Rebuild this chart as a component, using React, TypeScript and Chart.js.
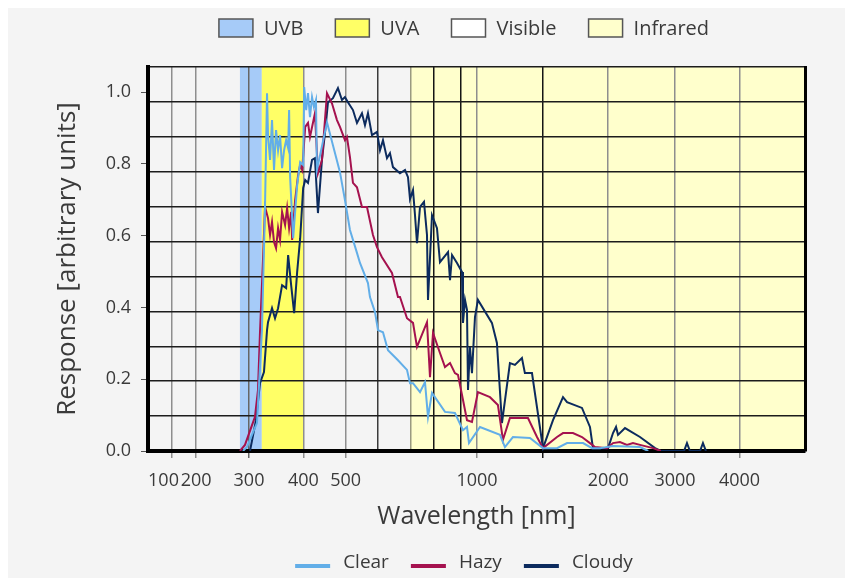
import React, { useEffect, useRef } from "react";
import { Chart, registerables } from "chart.js";

Chart.register(...registerables);

// ---------- data ----------
const clearWl = [290.6, 296.8, 312.9, 321.3, 326.5, 330.0, 331.7, 335.3, 338.8, 342.4, 346.1, 349.8, 353.5, 357.3, 361.1, 365.0, 368.9, 370.8, 372.8, 378.8, 386.9, 393.1, 399.4, 401.5, 405.8, 409.7, 414.0, 418.5, 422.8, 427.3, 429.5, 452.9, 485.0, 498.0, 511.3, 530.6, 539.1, 562.3, 568.3, 583.6, 592.9, 608.7, 625.0, 658.9, 691.0, 702.1, 713.3, 740.2, 759.9, 772.1, 788.6, 844.6, 890.1, 928.8, 948.6, 958.7, 1016, 1129, 1159, 1209, 1323, 1417, 1526, 1609, 1751, 1836, 1915, 2051, 2365, 2470];
const clearVal = [0, 0.011, 0.078, 0.337, 0.68, 0.997, 0.88, 0.811, 0.922, 0.783, 0.894, 0.838, 0.88, 0.788, 0.838, 0.866, 0.844, 0.95, 0.763, 0.593, 0.741, 0.805, 0.797, 1.014, 0.95, 0.997, 0.93, 0.986, 0.958, 0.978, 0.783, 0.916, 0.777, 0.699, 0.616, 0.552, 0.524, 0.468, 0.429, 0.387, 0.337, 0.331, 0.281, 0.253, 0.226, 0.189, 0.189, 0.164, 0.192, 0.095, 0.162, 0.109, 0.106, 0.058, 0.067, 0.022, 0.067, 0.045, 0.011, 0.039, 0.036, 0.008, 0.008, 0.022, 0.022, 0.008, 0.008, 0.014, 0.011, 0];

const hazyWl = [286, 293.7, 309.6, 314.6, 317.9, 323.0, 326.5, 331.7, 335.3, 338.8, 342.4, 346.1, 349.8, 353.5, 357.3, 363.0, 366.9, 370.8, 374.8, 376.8, 382.8, 388.9, 393.1, 397.3, 403.7, 409.7, 414.0, 425.0, 431.8, 441.0, 452.9, 464.9, 477.4, 485.0, 498.0, 503.2, 511.3, 519.5, 530.6, 544.8, 559.4, 577.4, 589.7, 605.5, 638.3, 658.9, 665.9, 691.0, 713.3, 728.5, 768.0, 780.3, 792.8, 822.5, 844.6, 867.3, 890.1, 904.5, 924.0, 948.6, 973.9, 1005, 1071, 1117, 1147, 1190, 1309, 1373, 1417, 1526, 1575, 1660, 1741, 1816, 1865, 1987, 2051, 2128, 2208, 2279, 2365, 2534, 2640];
const hazyVal = [0, 0.017, 0.095, 0.17, 0.329, 0.532, 0.68, 0.649, 0.602, 0.638, 0.582, 0.565, 0.621, 0.588, 0.666, 0.63, 0.677, 0.621, 0.666, 0.588, 0.699, 0.769, 0.797, 0.783, 0.903, 0.914, 0.875, 0.941, 0.774, 0.811, 0.997, 0.969, 0.922, 0.903, 0.866, 0.875, 0.819, 0.747, 0.735, 0.68, 0.68, 0.602, 0.568, 0.54, 0.496, 0.429, 0.429, 0.37, 0.357, 0.29, 0.359, 0.206, 0.329, 0.273, 0.234, 0.245, 0.217, 0.212, 0.156, 0.086, 0.081, 0.164, 0.15, 0.128, 0.031, 0.092, 0.092, 0.039, 0.008, 0.039, 0.05, 0.05, 0.039, 0.022, 0.011, 0.008, 0.022, 0.025, 0.017, 0.022, 0.017, 0.008, 0];

const cloudyWl = [301.6, 311.3, 317.9, 324.7, 330.0, 331.7, 338.8, 344.2, 349.8, 357.3, 365.0, 368.9, 374.8, 380.8, 386.9, 393.1, 399.4, 403.7, 409.7, 418.5, 425.0, 431.8, 441.0, 448.1, 455.3, 467.4, 479.9, 490.2, 498.0, 505.9, 519.5, 530.6, 544.8, 553.5, 562.3, 574.4, 589.7, 599.2, 608.7, 621.7, 631.6, 641.7, 665.9, 683.8, 694.7, 702.1, 713.3, 720.9, 728.5, 740.2, 755.9, 768.0, 772.1, 788.6, 809.6, 822.5, 858.2, 867.3, 876.6, 899.8, 924.0, 928.8, 938.7, 948.6, 953.7, 963.6, 973.9, 989.5, 1005, 1082, 1111, 1141, 1190, 1222, 1268, 1288, 1337, 1417, 1494, 1575, 1609, 1741, 1816, 1845, 1998, 2051, 2084, 2106, 2185, 2365, 2561, 2640, 2984, 3031, 3079, 3247, 3298, 3351];
const cloudyVal = [0, 0.086, 0.189, 0.22, 0.337, 0.359, 0.398, 0.37, 0.398, 0.462, 0.454, 0.546, 0.462, 0.384, 0.499, 0.593, 0.733, 0.755, 0.747, 0.811, 0.816, 0.663, 0.811, 0.886, 0.972, 0.983, 1.011, 0.978, 0.986, 0.972, 0.95, 0.914, 0.941, 0.908, 0.941, 0.88, 0.889, 0.838, 0.866, 0.816, 0.83, 0.791, 0.774, 0.783, 0.763, 0.702, 0.727, 0.657, 0.579, 0.68, 0.694, 0.602, 0.421, 0.657, 0.621, 0.526, 0.554, 0.476, 0.546, 0.524, 0.499, 0.357, 0.421, 0.393, 0.17, 0.29, 0.217, 0.373, 0.421, 0.357, 0.301, 0.078, 0.245, 0.24, 0.259, 0.217, 0.217, 0.008, 0.086, 0.15, 0.136, 0.12, 0.067, 0.008, 0.008, 0.05, 0.067, 0.045, 0.064, 0.039, 0.008, 0, 0, 0.022, 0, 0, 0.022, 0];

const seriesNames = ["Clear", "Hazy", "Cloudy"];

const bandNames = ["UVB", "UVA", "Visible", "Infrared"];
const bandStart = [286, 321, 400, 705];
const bandEnd = [321, 400, 705, 5653];

const xMin = 176;
const xMax = 5653;
const xTickValues = [191, 200, 227, 300, 400, 500, 593, 705, 797, 919, 1000, 1417, 2000, 2845, 4000];
const xTickLabels = ["100", "", "200", "300", "400", "500", "", "", "", "", "1000", "", "2000", "3000", "4000"];

const yMax = 1.07;
const yTickValues = [0, 0.2, 0.4, 0.6, 0.8, 1.0];
const hGridSteps = [0, 1, 2, 3, 4, 5, 6, 7, 8, 9, 10, 11];

// ---------- styles ----------
const FONT = "'Open Sans', 'DejaVu Sans', sans-serif";
const TEXT = "#3a3a3a";
const seriesColors = ["#62aee8", "#a5124f", "#0c2b5e"];
const bandFill = ["#a6cbf8", "#ffff66", "rgba(0,0,0,0)", "#ffffcc"];
const bandLegendFill = ["#a6cbf8", "#ffff66", "#ffffff", "#ffffcc"];
// per x tick: line colour / tick mark colour
const xGridKind = ["none", "gray", "gray", "dgray", "gray", "gray", "dark-n", "gray-n", "black-n", "black-n", "gray", "black", "gray", "gray", "gray"];
const kindLine: Record<string, string> = {
  none: "rgba(0,0,0,0)",
  gray: "#8e8e8e",
  dgray: "#666666",
  "dark-n": "#3a3a3a",
  "gray-n": "#9a9a80",
  "black-n": "#151515",
  black: "#151515",
};

const LEGEND_CX = 456;

const bgPlugin = {
  id: "bgBands",
  beforeDraw(chart: any) {
    const { ctx, chartArea } = chart;
    const xs = chart.scales.x;
    ctx.save();
    ctx.fillStyle = "#f4f4f4";
    ctx.fillRect(0, 0, chart.width, chart.height);
    for (let i = 0; i < bandNames.length; i++) {
      const a = Math.max(chartArea.left, xs.getPixelForValue(bandStart[i]));
      const b = Math.min(chartArea.right, xs.getPixelForValue(bandEnd[i]));
      ctx.fillStyle = bandFill[i];
      ctx.fillRect(a, chartArea.top, b - a, chartArea.bottom - chartArea.top);
    }
    ctx.restore();
  },
};

const legendPlugin = {
  id: "twoLegends",
  afterDraw(chart: any) {
    const ctx = chart.ctx;
    ctx.save();
    ctx.textBaseline = "middle";
    ctx.textAlign = "left";
    // top legend (bands)
    ctx.font = `20px ${FONT}`;
    const boxW = 34, boxH = 18, gapBT = 11, gapItem = 32;
    let widths = bandNames.map((n) => ctx.measureText(n).width);
    let total = widths.reduce((a, w) => a + boxW + gapBT + w, 0) + gapItem * (bandNames.length - 1);
    let x = LEGEND_CX - total / 2;
    const yTop = 20;
    bandNames.forEach((n, i) => {
      ctx.fillStyle = bandLegendFill[i];
      ctx.fillRect(x, yTop - boxH / 2, boxW, boxH);
      ctx.strokeStyle = "#555555";
      ctx.lineWidth = 1.5;
      ctx.strokeRect(x, yTop - boxH / 2, boxW, boxH);
      ctx.fillStyle = TEXT;
      ctx.fillText(n, x + boxW + gapBT, yTop + 1);
      x += boxW + gapBT + widths[i] + gapItem;
    });
    // bottom legend (series)
    ctx.font = `19px ${FONT}`;
    const lineW = 35, gapLT = 13, gapItem2 = 22;
    widths = seriesNames.map((n) => ctx.measureText(n).width);
    total = widths.reduce((a, w) => a + lineW + gapLT + w, 0) + gapItem2 * (seriesNames.length - 1);
    x = LEGEND_CX - total / 2;
    const yBot = 555;
    seriesNames.forEach((n, i) => {
      ctx.fillStyle = seriesColors[i];
      ctx.fillRect(x, yBot + 1, lineW, 4);
      ctx.fillStyle = TEXT;
      ctx.fillText(n, x + lineW + gapLT, yBot);
      x += lineW + gapLT + widths[i] + gapItem2;
    });
    ctx.restore();
  },
};

function makeData(wl: number[], val: number[]) {
  return wl.map((w, i) => ({ x: w, y: val[i] }));
}

export default function App() {
  const ref = useRef<HTMLCanvasElement | null>(null);
  useEffect(() => {
    if (!ref.current) return;
    const series = [
      makeData(clearWl, clearVal),
      makeData(hazyWl, hazyVal),
      makeData(cloudyWl, cloudyVal),
    ];
    const chart = new Chart(ref.current, {
      type: "line",
      data: {
        datasets: series.map((d, i) => ({
          label: seriesNames[i],
          data: d,
          borderColor: seriesColors[i],
          backgroundColor: seriesColors[i],
          borderWidth: 2,
          pointRadius: 0,
          tension: 0,
          fill: false,
        })),
      },
      options: {
        animation: false,
        responsive: false,
        devicePixelRatio: 1,
        layout: { padding: { top: 59, right: 48, bottom: 40, left: 0 } },
        plugins: { legend: { display: false }, tooltip: { enabled: false } },
        scales: {
          x: {
            type: "logarithmic",
            position: "bottom",
            min: xMin,
            max: xMax,
            afterBuildTicks: (s: any) => {
              s.ticks = xTickValues.map((v) => ({ value: v }));
            },
            afterFit: (s: any) => {
              s.height = 87;
            },
            ticks: {
              autoSkip: false,
              maxRotation: 0,
              callback: (_v: any, i: number) => xTickLabels[i],
              font: { family: FONT, size: 18 },
              color: TEXT,
              padding: 12,
            },
            grid: {
              color: (c: any) => kindLine[xGridKind[c.index]] || "#8e8e8e",
              tickColor: (c: any) => {
                const k = xGridKind[c.index];
                if (k === "none" || (k && k.endsWith("-n"))) return "rgba(0,0,0,0)";
                return kindLine[k];
              },
              lineWidth: 1.5,
              tickLength: 7,
            },
            border: { display: true, color: "#000000", width: 4 },
            title: {
              display: true,
              text: "Wavelength [nm]",
              font: { family: FONT, size: 25 },
              color: TEXT,
              padding: { top: 0, bottom: 6 },
            },
          },
          y: {
            type: "linear",
            position: "left",
            min: 0,
            max: yMax,
            afterBuildTicks: (s: any) => {
              s.ticks = yTickValues.map((v) => ({ value: v }));
            },
            afterFit: (s: any) => {
              s.width = 140;
            },
            ticks: {
              callback: (v: any) => Number(v).toFixed(1),
              font: { family: FONT, size: 18 },
              color: TEXT,
              padding: 10,
            },
            grid: { drawOnChartArea: false, tickLength: 7, tickColor: "#555555", lineWidth: 1 },
            border: { display: true, color: "#000000", width: 4 },
            title: {
              display: true,
              text: "Response [arbitrary units]",
              font: { family: FONT, size: 26 },
              color: TEXT,
              padding: { top: 44, bottom: 0 },
            },
          },
          yg: {
            type: "linear",
            position: "right",
            min: 0,
            max: hGridSteps[hGridSteps.length - 1],
            afterBuildTicks: (s: any) => {
              s.ticks = hGridSteps.map((v) => ({ value: v }));
            },
            afterFit: (s: any) => {
              s.width = 0;
            },
            ticks: { display: false },
            grid: { color: "#1c1c1c", lineWidth: 1.5, drawTicks: false },
            border: { display: true, color: "#000000", width: 3 },
          },
        },
      },
      plugins: [bgPlugin, legendPlugin],
    } as any);
    return () => chart.destroy();
  }, []);
  return <canvas ref={ref} width={845} height={570} style={{ display: "block" }} />;
}
